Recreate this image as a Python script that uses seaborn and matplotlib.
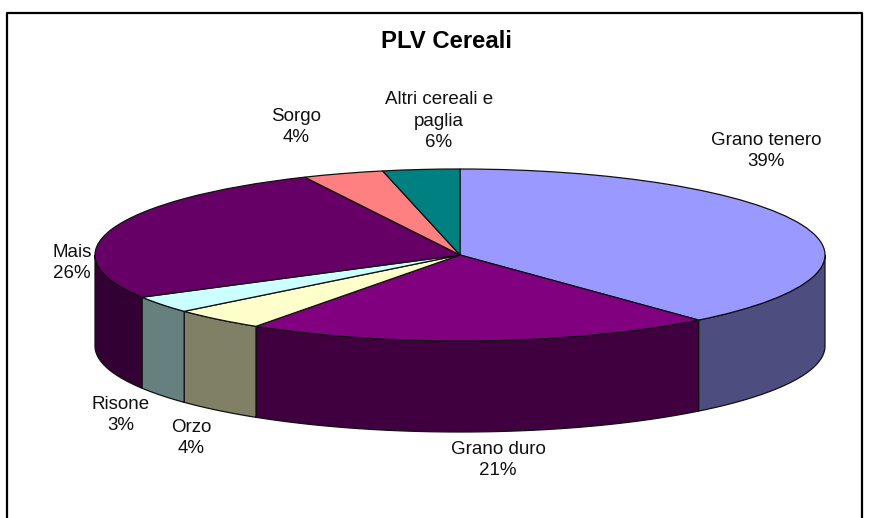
import numpy as np
import matplotlib
matplotlib.use("Agg")
import matplotlib.pyplot as plt
import seaborn as sns

categories = ["Grano tenero", "Grano duro", "Orzo", "Risone", "Mais", "Sorgo", "Altri cereali e\npaglia"]
drawn_shares = [38.7, 20.8, 4.2, 3.2, 26.2, 3.6, 3.4]
percent_labels = ["39%", "21%", "4%", "3%", "26%", "4%", "6%"]
top_colors = ["#9999FF", "#800080", "#FFFFCC", "#CCFFFF", "#660066", "#FF8080", "#008080"]
side_colors = ["#4D4D80", "#400040", "#808066", "#668080", "#330033", "#804040", "#004040"]
title_text = "PLV Cereali"

W, H = 872, 518
CX, CY, RX, RY, DEPTH = 460, 255, 365, 86, 91

sns.set_theme(style="white")
plt.rcParams["font.family"] = ["Liberation Sans", "DejaVu Sans"]

fig = plt.figure(figsize=(W / 100, H / 100), dpi=100, facecolor="white")
ax = fig.add_axes([0, 0, 1, 1])

def dx(px):
    return (px - CX) / RX

def dy(py):
    return (CY - py) / RY

# side wall: only the front half of the rim is visible
bounds = np.concatenate([[0], np.cumsum(drawn_shares)]) / np.sum(drawn_shares) * 360
top_pal = sns.color_palette(top_colors)
side_pal = sns.color_palette(side_colors)
d = DEPTH / RY
for a0, a1, c in zip(bounds[:-1], bounds[1:], side_pal):
    lo, hi = max(a0, 90), min(a1, 270)
    if hi <= lo:
        continue
    t = np.radians(np.linspace(lo, hi, 120))
    xs = np.sin(t)
    ys = np.cos(t)
    ax.fill(np.r_[xs, xs[::-1]], np.r_[ys, ys[::-1] - d], facecolor=c,
            edgecolor="#111111", linewidth=0.9, joinstyle="round", zorder=1)

wedges, _ = ax.pie(drawn_shares, colors=top_pal, startangle=90, counterclock=False,
                   radius=1, center=(0, 0),
                   wedgeprops=dict(edgecolor="#111111", linewidth=0.9))
for w in wedges:
    w.set_zorder(2)

ax.set_aspect("auto")
ax.set_xlim(dx(0), dx(W))
ax.set_ylim(dy(H), dy(0))
ax.axis("off")

# chart frame (lower edge runs off the picture)
ax.plot([dx(7), dx(7), dx(862), dx(862)], [dy(H + 5), dy(13), dy(13), dy(H + 5)],
        color="black", linewidth=1.6, zorder=0)

ax.text(dx(446.5), dy(42), title_text, fontsize=17.2, fontweight="bold",
        ha="center", va="center", color="black")

label_pos = [(766, 151), (498, 460), (191, 438), (121, 415), (72, 263), (296, 127), (439, 121)]
for name, pct, (px, py) in zip(categories, percent_labels, label_pos):
    ax.text(dx(px), dy(py), f"{name}\n{pct}", fontsize=13.5, ha="center", va="center",
            color="#111111", linespacing=1.38)

fig.savefig("out.png", dpi=100, facecolor="white")
